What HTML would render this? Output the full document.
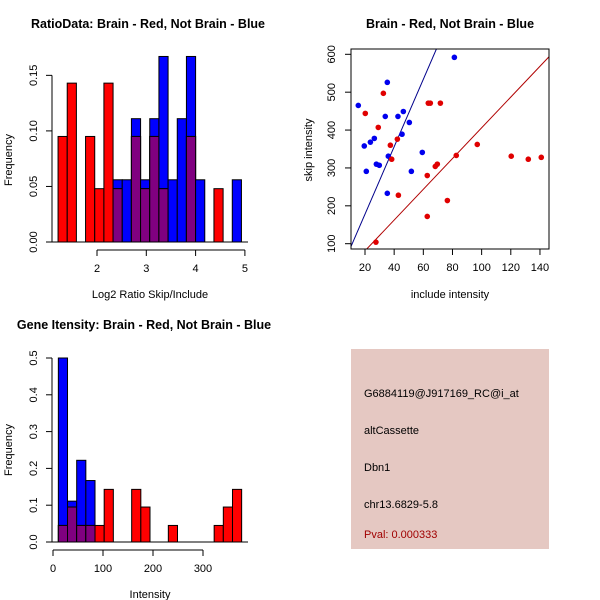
<!DOCTYPE html>
<html><head><meta charset="utf-8"><style>
body{margin:0;background:#fff}
svg{display:block;font-family:"Liberation Sans",sans-serif}
</style></head><body>
<svg id="chart" width="600" height="600" viewBox="0 0 600 600" xmlns="http://www.w3.org/2000/svg">
<rect width="600" height="600" fill="#fff"/>
<g id="p1"></g>
<g id="p2"></g>
<g id="p3"></g>
<g>
<rect x="351" y="349" width="198" height="200" fill="#e5c8c2"/>
<text x="364" y="397" font-size="11">G6884119@J917169_RC@i_at</text>
<text x="364" y="434" font-size="11">altCassette</text>
<text x="364" y="471" font-size="11">Dbn1</text>
<text x="364" y="508" font-size="11">chr13.6829-5.8</text>
<text x="364" y="538" font-size="11" fill="#a00000">Pval: 0.000333</text>
</g>
</svg>
<script>
// ---- Plot 1 data ----
const ratioBinStart = 1.21, ratioBinWidth = 0.186;
const ratioRed  = [0.095,0.143,0,0.095,0.048,0.143,0.048,0,0.095,0.048,0.095,0.048,0,0,0.095,0,0,0.048,0,0];
const ratioBlue = [0,0,0,0,0,0,0.056,0.056,0.111,0.056,0.111,0.167,0.056,0.111,0.167,0.056,0,0,0,0.056];
const ratioXTicks = [2,3,4,5];
const ratioYTicks = [0,0.05,0.10,0.15];
const ratioYLabels = ["0.00","0.05","0.10","0.15"];
// ---- Plot 2 data ----
const blueX = [15.4,19.5,20.9,23.7,26.4,27.8,29.8,33.9,35.3,35.3,36.0,42.6,45.4,46.3,50.4,51.8,59.3,81.3];
const blueY = [465,358,291,368,378,310,307,436,526,233,331,436,389,449,420,291,341,592];
const redX = [20.2,27.5,29.1,32.6,37.4,38.3,42.2,42.9,62.7,62.7,63.4,64.8,71.7,68.2,69.6,76.5,82.6,97.0,120.3,132.0,140.9];
const redY = [444,104,407,497,360,323,376,228,280,172,471,471,471,304,310,214,333,362,331,323,328];
const blueSlope = 8.9, redSlope = 4.06;
const scatXTicks = [20,40,60,80,100,120,140];
const scatYTicks = [100,200,300,400,500,600];
// ---- Plot 3 data ----
const intBinStart = 10.7, intBinWidth = 18.33;
const intRed  = [0.045,0.095,0.045,0.045,0.045,0.143,0,0,0.143,0.095,0,0,0.045,0,0,0,0,0.045,0.095,0.143];
const intBlue = [0.5,0.111,0.222,0.167,0,0,0,0,0,0,0,0,0,0,0,0,0,0,0,0];
const intXTicks = [0,100,200,300];
const intYTicks = [0,0.1,0.2,0.3,0.4,0.5];
const intYLabels = ["0.0","0.1","0.2","0.3","0.4","0.5"];

const NS="http://www.w3.org/2000/svg";
function mk(parent,tag,attrs,text){const e=document.createElementNS(NS,tag);for(const k in attrs)e.setAttribute(k,attrs[k]);if(text!==undefined)e.textContent=text;parent.appendChild(e);return e;}

function hist(g,o){
  const sx=v=>o.x0+(v-o.d0)*o.kx, sy=v=>o.y0-v*o.ky;
  for(let i=0;i<o.red.length;i++){
    const a=o.binStart+i*o.binW, b=a+o.binW;
    const x1=sx(a), x2=sx(b), r=o.red[i], bl=o.blue[i];
    if(bl>0){const e=mk(g,'rect',{x:x1,y:sy(bl),width:x2-x1,height:sy(0)-sy(bl),fill:'#0000ff',stroke:'#000','stroke-width':1});
      
      }
    if(r>0){const m=Math.min(r,bl);
      const e=mk(g,'rect',{x:x1,y:sy(r),width:x2-x1,height:sy(0)-sy(r),fill:'#ff0000',stroke:'#000','stroke-width':1});
      
      
      if(m>0){const p=mk(g,'rect',{x:x1,y:sy(m),width:x2-x1,height:sy(0)-sy(m),fill:'#800080',stroke:'#000','stroke-width':1});
        
        }
    }
  }
  mk(g,'line',{x1:52,x2:248,y1:o.y0,y2:o.y0,stroke:'#000'});
  const yt=o.yTicks;
  mk(g,'line',{x1:52,x2:52,y1:sy(yt[0]),y2:sy(yt[yt.length-1]),stroke:'#000'});
  yt.forEach((v,i)=>{mk(g,'line',{x1:46,x2:52,y1:sy(v),y2:sy(v),stroke:'#000'});
    const t=mk(g,'text',{x:0,y:0,'font-size':11,'text-anchor':'middle',transform:`translate(37,${sy(v)}) rotate(-90)`},o.yLabels[i]);
    
    });
  const xt=o.xTicks, ay=o.y0+8;
  mk(g,'line',{x1:sx(xt[0]),x2:sx(xt[xt.length-1]),y1:ay,y2:ay,stroke:'#000'});
  xt.forEach(v=>{mk(g,'line',{x1:sx(v),x2:sx(v),y1:ay,y2:ay+6,stroke:'#000'});
    const t=mk(g,'text',{x:sx(v),y:ay+22,'font-size':11,'text-anchor':'middle'},String(v));
    
    });
  const xl=mk(g,'text',{x:150,y:o.y0+56,'font-size':11,'text-anchor':'middle'},o.xlab);
  
  
  const yl=mk(g,'text',{x:0,y:0,'font-size':11,'text-anchor':'middle',transform:`translate(12,${o.ymid}) rotate(-90)`},'Frequency');
  
  
  const ti=mk(g,'text',{x:o.tx,y:o.ty,'font-size':12.5,'font-weight':'bold','text-anchor':'middle'},o.title);
  
  
}
hist(document.getElementById('p1'),{x0:97,d0:2,kx:49.3,y0:242,ky:1111,binStart:ratioBinStart,binW:ratioBinWidth,red:ratioRed,blue:ratioBlue,xTicks:ratioXTicks,yTicks:ratioYTicks,yLabels:ratioYLabels,xlab:'Log2 Ratio Skip/Include',ymid:160,title:'RatioData: Brain - Red, Not Brain - Blue',tx:148,ty:28});
hist(document.getElementById('p3'),{x0:53,d0:0,kx:0.5,y0:542,ky:368,binStart:intBinStart,binW:intBinWidth,red:intRed,blue:intBlue,xTicks:intXTicks,yTicks:intYTicks,yLabels:intYLabels,xlab:'Intensity',ymid:450,title:'Gene Itensity: Brain - Red, Not Brain - Blue',tx:144,ty:329});

(function(){
  const g=document.getElementById('p2');
  const L=351,R=549,T=49,B=249, xmin=10.4,xmax=146.2,ymin=86,ymax=614;
  const sx=v=>L+(v-xmin)/(xmax-xmin)*(R-L), sy=v=>B-(v-ymin)/(ymax-ymin)*(B-T);
  const cp=mk(g,'clipPath',{id:'clip2'}); mk(cp,'rect',{x:L,y:T,width:R-L,height:B-T});
  const lg=mk(g,'g',{'clip-path':'url(#clip2)'});
  const bl=mk(lg,'line',{x1:sx(0),y1:sy(0),x2:sx(80),y2:sy(80*blueSlope),stroke:'#00008b','stroke-width':1});
  
  
  const rl=mk(lg,'line',{x1:sx(0),y1:sy(0),x2:sx(160),y2:sy(160*redSlope),stroke:'#b00000','stroke-width':1});
  
  
  blueX.forEach((x,i)=>{const c=mk(g,'circle',{cx:sx(x),cy:sy(blueY[i]),r:2.8,fill:'#0000ee'});
    
    });
  redX.forEach((x,i)=>{const c=mk(g,'circle',{cx:sx(x),cy:sy(redY[i]),r:2.8,fill:'#e00000'});
    
    });
  mk(g,'rect',{x:L,y:T,width:R-L,height:B-T,fill:'none',stroke:'#000'});
  scatXTicks.forEach(v=>{mk(g,'line',{x1:sx(v),x2:sx(v),y1:B,y2:B+6,stroke:'#000'});
    const t=mk(g,'text',{x:sx(v),y:B+22,'font-size':11,'text-anchor':'middle'},String(v));
    
    });
  scatYTicks.forEach(v=>{mk(g,'line',{x1:L-6,x2:L,y1:sy(v),y2:sy(v),stroke:'#000'});
    const t=mk(g,'text',{x:0,y:0,'font-size':11,'text-anchor':'middle',transform:`translate(335,${sy(v)}) rotate(-90)`},String(v));
    
    });
  const xl=mk(g,'text',{x:450,y:298,'font-size':11,'text-anchor':'middle'},'include intensity');
  
  
  const yl=mk(g,'text',{x:0,y:0,'font-size':11,'text-anchor':'middle',transform:'translate(312,150) rotate(-90)'},'skip intensity');
  
  
  const ti=mk(g,'text',{x:450,y:28,'font-size':12.5,'font-weight':'bold','text-anchor':'middle'},'Brain - Red, Not Brain - Blue');
  
  
})();
</script>
</body></html>
